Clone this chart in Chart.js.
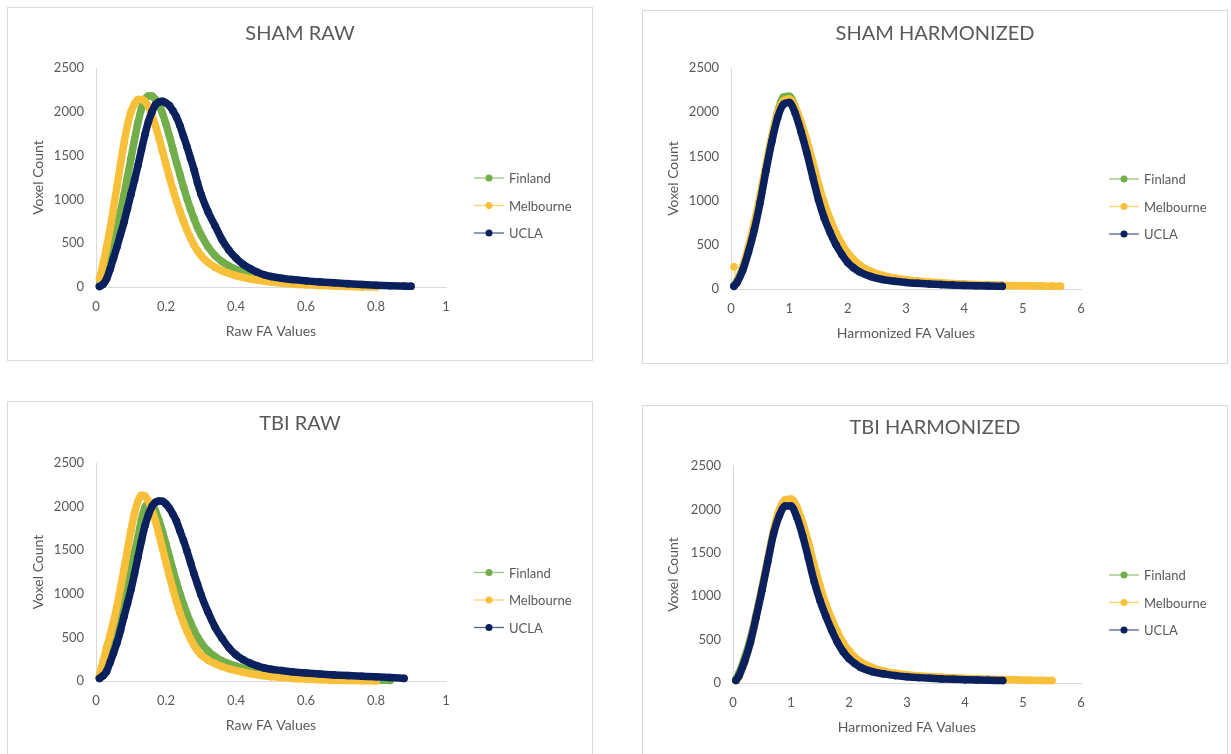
<!DOCTYPE html>
<html>
<head>
<meta charset="utf-8">
<script src="https://cdn.jsdelivr.net/npm/chart.js@4.4.1/dist/chart.umd.min.js"></script>
<style>
  body { margin: 0; background: #fff; width: 1231px; height: 754px; overflow: hidden; position: relative; }
  .panel { position: absolute; width: 586px; height: 354px; outline: 1px solid #d9d9d9; outline-offset: -1px; }
  .panel canvas { display: block; }
</style>
</head>
<body>
<div class="panel" style="left:7px;top:7px"><canvas id="shamRaw" width="586" height="354"></canvas></div>
<div class="panel" style="left:642px;top:10px"><canvas id="shamHarm" width="586" height="354"></canvas></div>
<div class="panel" style="left:7px;top:401px"><canvas id="tbiRaw" width="586" height="354"></canvas></div>
<div class="panel" style="left:642px;top:405px"><canvas id="tbiHarm" width="586" height="354"></canvas></div>
<script>
// bins (FA values) shared by the series of each panel
const rawFA = [0.01, 0.02, 0.03, 0.04, 0.05, 0.06, 0.07, 0.08, 0.09, 0.10,
  0.11, 0.12, 0.13, 0.14, 0.15, 0.16, 0.17, 0.18, 0.19, 0.20,
  0.21, 0.22, 0.23, 0.24, 0.25, 0.26, 0.27, 0.28, 0.29, 0.30,
  0.32, 0.34, 0.36, 0.38, 0.40, 0.42, 0.44, 0.46, 0.48, 0.50,
  0.53, 0.56, 0.60, 0.64, 0.68, 0.72, 0.76, 0.80, 0.84, 0.88, 0.90];
const harmFA = [0.05, 0.1, 0.2, 0.3, 0.4, 0.5, 0.6, 0.7, 0.8, 0.9,
  1.0, 1.1, 1.2, 1.3, 1.4, 1.5, 1.6, 1.7, 1.8, 1.9,
  2.0, 2.1, 2.2, 2.4, 2.6, 2.8, 3.0, 3.2, 3.4, 3.6,
  3.8, 4.0, 4.2, 4.4, 4.65, 4.9, 5.1, 5.3, 5.5, 5.65];

// voxel counts - SHAM raw
const shamRawFinland = [20, 120, 260, 400, 540, 700, 860, 1050, 1260, 1470,
  1680, 1880, 2040, 2140, 2180, 2180, 2140, 2080, 1980, 1860,
  1720, 1570, 1420, 1280, 1140, 1010, 890, 780, 680, 600,
  460, 360, 290, 240, 200, 170, 148, 130, 113, 98,
  76, 60, 44, 30, 19, 11, 5];
const shamRawMelbourne = [90, 260, 450, 660, 900, 1150, 1400, 1640, 1850, 2000,
  2090, 2140, 2140, 2120, 2060, 1960, 1840, 1700, 1550, 1400,
  1250, 1110, 980, 860, 750, 650, 560, 480, 415, 360,
  280, 225, 185, 155, 130, 110, 94, 80, 68, 58,
  45, 35, 25, 17, 11, 6, 3, 1];
const shamRawUCLA = [5, 30, 90, 200, 330, 460, 600, 740, 900, 1060,
  1220, 1390, 1570, 1740, 1890, 2000, 2080, 2110, 2120, 2100,
  2070, 2010, 1940, 1840, 1720, 1600, 1470, 1340, 1190, 1060,
  860, 700, 540, 420, 330, 260, 210, 170, 140, 120,
  100, 85, 70, 58, 48, 38, 28, 20, 14, 10, 8];

// SHAM harmonized
const shamHarmFinland = [40, 90, 240, 460, 720, 1030, 1380, 1720, 2000, 2170,
  2180, 2060, 1850, 1610, 1340, 1080, 860, 690, 545, 430,
  340, 275, 225, 165, 128, 105, 90, 80, 72, 64,
  58, 52, 48, 44, 40];
const shamHarmMelbourne = [250, 80, 250, 480, 750, 1060, 1400, 1720, 1990, 2130,
  2150, 2060, 1890, 1680, 1440, 1190, 970, 790, 635, 510,
  410, 335, 275, 200, 155, 125, 104, 90, 79, 70,
  62, 56, 50, 46, 42, 38, 36, 34, 32, 30];
const shamHarmUCLA = [30, 70, 210, 420, 670, 980, 1340, 1670, 1940, 2090,
  2110, 1990, 1780, 1540, 1270, 1010, 800, 640, 500, 390,
  300, 240, 195, 140, 108, 88, 74, 64, 56, 50,
  45, 40, 36, 33, 30];

// TBI raw
const tbiRawFinland = [40, 140, 250, 360, 480, 620, 770, 920, 1100, 1280,
  1470, 1650, 1850, 1990, 2040, 2020, 1950, 1840, 1710, 1570,
  1420, 1270, 1130, 1000, 880, 770, 670, 580, 505, 440,
  345, 280, 232, 198, 172, 147, 127, 111, 96, 83,
  67, 54, 42, 33, 26, 20, 15, 10, 6];
const tbiRawMelbourne = [70, 220, 380, 520, 680, 860, 1070, 1280, 1510, 1730,
  1920, 2060, 2130, 2120, 2060, 1960, 1830, 1680, 1520, 1360,
  1200, 1050, 910, 780, 670, 570, 485, 410, 350, 300,
  240, 200, 165, 140, 120, 100, 85, 72, 60, 50,
  40, 30, 22, 15, 10, 6, 3, 1];
const tbiRawUCLA = [30, 60, 110, 210, 320, 440, 580, 740, 890, 1050,
  1230, 1420, 1610, 1780, 1910, 2000, 2050, 2065, 2060, 2030,
  1980, 1910, 1830, 1720, 1610, 1490, 1360, 1230, 1110, 990,
  790, 620, 490, 380, 300, 245, 205, 175, 150, 135,
  120, 105, 92, 80, 70, 62, 55, 48, 40, 30];

// TBI harmonized
const tbiHarmFinland = [40, 110, 290, 510, 790, 1090, 1420, 1740, 1960, 2070,
  2070, 1940, 1740, 1490, 1220, 990, 800, 640, 500, 390,
  305, 245, 200, 150, 118, 98, 85, 75, 68, 62,
  56, 50, 45, 40, 36];
const tbiHarmMelbourne = [30, 70, 240, 470, 770, 1090, 1430, 1760, 2000, 2110,
  2120, 2030, 1850, 1620, 1360, 1120, 910, 740, 590, 465,
  370, 298, 245, 178, 137, 112, 95, 83, 73, 65,
  58, 52, 47, 43, 40, 36, 33, 30, 28];
const tbiHarmUCLA = [30, 80, 250, 470, 760, 1070, 1400, 1720, 1930, 2040,
  2040, 1910, 1700, 1440, 1170, 950, 770, 610, 470, 360,
  280, 225, 180, 130, 105, 85, 72, 62, 54, 47,
  42, 38, 34, 31, 28];

// tick labels
const rawTicks = [0, 0.2, 0.4, 0.6, 0.8, 1];
const harmTicks = [0, 1, 2, 3, 4, 5, 6];
const countTicks = [0, 500, 1000, 1500, 2000, 2500];

const siteNames = ['Finland', 'Melbourne', 'UCLA'];
const siteColors = ['#72AE4A', '#F8C03A', '#0B215E'];
const textGrey = '#595959';

Chart.defaults.font.family = 'Lato';
Chart.defaults.color = textGrey;

// chart title + Excel style legend (thin line with a dot)
const panelDecor = {
  id: 'panelDecor',
  afterDraw(chart, args, opts) {
    const {ctx, chartArea: area} = chart;
    ctx.save();
    ctx.fillStyle = textGrey;
    ctx.font = '20px Lato';
    ctx.textAlign = 'center';
    ctx.textBaseline = 'middle';
    ctx.fillText(opts.title, chart.width / 2, opts.titleY);

    const midY = (area.top + area.bottom) / 2 + 28;
    const x = area.right + 43;
    ctx.font = '13px Lato';
    ctx.textAlign = 'left';
    chart.data.datasets.forEach(function (ds, i) {
      const y = midY + (i - 1) * 27.5;
      ctx.globalAlpha = 0.7;
      ctx.strokeStyle = ds.borderColor;
      ctx.lineWidth = 1.3;
      ctx.beginPath();
      ctx.moveTo(x - 15, y);
      ctx.lineTo(x + 15, y);
      ctx.stroke();
      ctx.globalAlpha = 1;
      ctx.fillStyle = ds.borderColor;
      ctx.beginPath();
      ctx.arc(x, y, 3.5, 0, Math.PI * 2);
      ctx.fill();
      ctx.fillStyle = textGrey;
      ctx.fillText(ds.label, x + 20, y + 1);
    });
    ctx.restore();
  }
};

function makePanel(id, cfg) {
  const canvasH = 354;
  const datasets = cfg.series.map(function (values, i) {
    return {
      label: siteNames[i],
      data: values,
      borderColor: siteColors[i],
      backgroundColor: siteColors[i],
      pointBackgroundColor: siteColors[i],
      borderWidth: 7.5,
      pointRadius: 3.8,
      pointBorderWidth: 0,
      borderJoinStyle: 'round',
      borderCapStyle: 'round',
      cubicInterpolationMode: 'monotone',
      order: 3 - i, // UCLA drawn on top
      clip: 8,
      segment: {
        // isolated first bin: keep its connector thin
        borderWidth: c => (c.p0DataIndex === 0 && c.p0.y < c.p1.y - 12) ? 1.2 : undefined
      }
    };
  });

  return new Chart(document.getElementById(id), {
    type: 'line',
    data: { labels: cfg.bins, datasets: datasets },
    plugins: [panelDecor],
    options: {
      responsive: false,
      devicePixelRatio: 1,
      animation: false,
      layout: { padding: { top: cfg.top, right: 147, bottom: 0, left: 0 } },
      plugins: {
        legend: { display: false },
        tooltip: { enabled: false },
        panelDecor: { title: cfg.title, titleY: cfg.titleY }
      },
      scales: {
        x: {
          type: 'linear',
          min: cfg.ticks[0],
          max: cfg.ticks[cfg.ticks.length - 1],
          grid: { display: false, drawTicks: false },
          border: { display: true, color: '#d9d9d9', width: 1 },
          afterBuildTicks: s => { s.ticks = cfg.ticks.map(v => ({ value: v })); },
          afterFit: s => { s.height = canvasH - cfg.bottom; },
          ticks: { padding: 12, font: { size: 13 }, callback: v => String(v) },
          title: {
            display: true,
            text: cfg.xTitle,
            font: { size: 14 },
            padding: { top: 0, bottom: canvasH - cfg.bottom - 44 - 8.4 }
          }
        },
        y: {
          min: countTicks[0],
          max: countTicks[countTicks.length - 1],
          grid: { display: false, drawTicks: false },
          border: { display: true, color: '#d9d9d9', width: 1 },
          afterBuildTicks: s => { s.ticks = countTicks.map(v => ({ value: v })); },
          afterFit: s => { s.width = cfg.left; },
          ticks: { padding: 12, font: { size: 13 }, callback: v => String(v) },
          title: {
            display: true,
            text: 'Voxel Count',
            font: { size: 14 },
            padding: { top: 23, bottom: 0 }
          }
        }
      }
    }
  });
}

makePanel('shamRaw', {
  title: 'SHAM RAW', titleY: 27, top: 61, bottom: 280, left: 89,
  bins: rawFA, ticks: rawTicks, xTitle: 'Raw FA Values',
  series: [shamRawFinland, shamRawMelbourne, shamRawUCLA]
});
makePanel('shamHarm', {
  title: 'SHAM HARMONIZED', titleY: 24, top: 58, bottom: 279, left: 89,
  bins: harmFA, ticks: harmTicks, xTitle: 'Harmonized FA Values',
  series: [shamHarmFinland, shamHarmMelbourne, shamHarmUCLA]
});
makePanel('tbiRaw', {
  title: 'TBI RAW', titleY: 23, top: 62, bottom: 280, left: 89,
  bins: rawFA, ticks: rawTicks, xTitle: 'Raw FA Values',
  series: [tbiRawFinland, tbiRawMelbourne, tbiRawUCLA]
});
makePanel('tbiHarm', {
  title: 'TBI HARMONIZED', titleY: 23, top: 61, bottom: 278, left: 91,
  bins: harmFA, ticks: harmTicks, xTitle: 'Harmonized FA Values',
  series: [tbiHarmFinland, tbiHarmMelbourne, tbiHarmUCLA]
});
</script>
</body>
</html>
